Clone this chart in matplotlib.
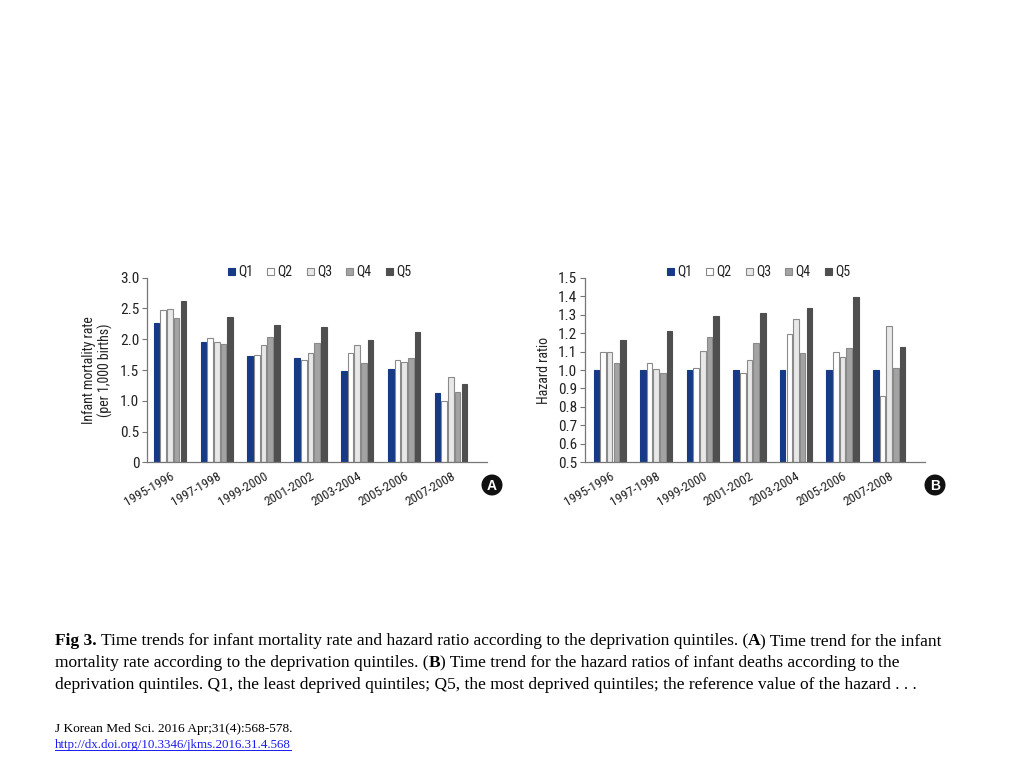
import matplotlib
matplotlib.use("Agg")
import matplotlib.pyplot as plt
import numpy as np
from matplotlib.patches import Ellipse
from matplotlib import font_manager

periods = ["1995-1996", "1997-1998", "1999-2000", "2001-2002", "2003-2004", "2005-2006", "2007-2008"]
quintiles = ["Q1", "Q2", "Q3", "Q4", "Q5"]

imr_q1 = [2.26, 1.96, 1.73, 1.69, 1.49, 1.51, 1.13]
imr_q2 = [2.48, 2.02, 1.75, 1.66, 1.77, 1.66, 0.99]
imr_q3 = [2.49, 1.96, 1.91, 1.78, 1.90, 1.63, 1.39]
imr_q4 = [2.35, 1.93, 2.03, 1.94, 1.62, 1.70, 1.15]
imr_q5 = [2.62, 2.36, 2.23, 2.20, 1.98, 2.11, 1.27]

hr_q1 = [1.00, 1.00, 1.00, 1.00, 1.00, 1.00, 1.00]
hr_q2 = [1.096, 1.036, 1.013, 0.984, 1.193, 1.100, 0.861]
hr_q3 = [1.100, 1.004, 1.105, 1.056, 1.274, 1.070, 1.236]
hr_q4 = [1.040, 0.984, 1.180, 1.148, 1.090, 1.120, 1.011]
hr_q5 = [1.162, 1.213, 1.290, 1.310, 1.334, 1.395, 1.123]

imr_yticks = [0, 0.5, 1.0, 1.5, 2.0, 2.5, 3.0]
imr_ytick_labels = ["0", "0.5", "1.0", "1.5", "2.0", "2.5", "3.0"]
hr_yticks = [0.5, 0.6, 0.7, 0.8, 0.9, 1.0, 1.1, 1.2, 1.3, 1.4, 1.5]

face_colors = ["#173a86", "#ffffff", "#e8e8e8", "#a3a3a3", "#4f4f4f"]
edge_colors = ["#173a86", "#8a8a8a", "#8a8a8a", "#8a8a8a", "#4f4f4f"]

available = {f.name for f in font_manager.fontManager.ttflist}
narrow = None
for cand in ["Liberation Sans Narrow", "Roboto Condensed", "Open Sans Condensed",
             "DejaVu Sans Condensed", "Noto Sans Condensed"]:
    if cand in available:
        narrow = cand
        break
if narrow:
    FONT = [narrow, "DejaVu Sans"]
    tick_fs, xt_fs, lab_fs, leg_fs = 11, 9.5, 10, 10
else:
    FONT = ["Liberation Sans", "DejaVu Sans"]
    tick_fs, xt_fs, lab_fs, leg_fs = 10, 8.5, 8.5, 9
plt.rcParams["font.family"] = FONT

fig = plt.figure(figsize=(10.24, 7.68), dpi=100)
fig.patch.set_facecolor("white")

def draw_panel(rect, series, ylim, yticks, ylabels, ylabel, xlim, legend_x, letter, letter_x):
    ax = fig.add_axes(rect)
    x = np.arange(len(periods))
    slot = 0.143
    width = 0.12
    for i, vals in enumerate(series):
        offs = (i - 2) * slot
        ax.bar(x + offs, vals, width=width,
               color=face_colors[i], edgecolor=edge_colors[i], linewidth=0.8,
               zorder=2)
    ax.set_ylim(*ylim)
    ax.set_xlim(*xlim)
    ax.set_yticks(yticks)
    ax.set_yticklabels(ylabels, fontsize=tick_fs, color="#222222")
    ax.set_xticks(x)
    ax.set_xticklabels(periods, rotation=30, ha="right", rotation_mode="anchor",
                       fontsize=xt_fs, color="#222222")
    ax.tick_params(axis="x", length=0, pad=5)
    ax.tick_params(axis="y", length=3.5, width=0.8, color="#777777", pad=2)
    for s in ["top", "right"]:
        ax.spines[s].set_visible(False)
    for s in ["left", "bottom"]:
        ax.spines[s].set_color("#777777")
        ax.spines[s].set_linewidth(0.9)
    ax.set_ylabel(ylabel, fontsize=lab_fs, color="#222222", linespacing=1.15, labelpad=5)
    for i, q in enumerate(quintiles):
        lx = legend_x + i * 39.5
        fig.patches.append(plt.Rectangle(((lx - 3.5) / 1024, 1 - 274.5 / 768), 7 / 1024, 7 / 768,
                                         transform=fig.transFigure, facecolor=face_colors[i],
                                         edgecolor=edge_colors[i], linewidth=0.8))
        fig.text((lx + 7) / 1024, 1 - 271 / 768, q, fontsize=leg_fs, va="center", ha="left",
                 color="#222222")
    circ = Ellipse((letter_x / 1024, 1 - 485 / 768), 21 / 1024, 21 / 768, transform=fig.transFigure,
                   facecolor="#111111", edgecolor="none")
    fig.patches.append(circ)
    fig.text(letter_x / 1024, 1 - 485.5 / 768, letter, color="white", fontsize=10,
             fontweight="bold", ha="center", va="center", family=["Liberation Sans", "DejaVu Sans"])
    return ax

draw_panel([147 / 1024, 1 - 462.3 / 768, 340 / 1024, 184.6 / 768],
           [imr_q1, imr_q2, imr_q3, imr_q4, imr_q5], (0, 3.0), imr_yticks, imr_ytick_labels,
           "Infant mortality rate\n(per 1,000 births)", (-0.49, 6.77), 231, "A", 492)

draw_panel([585 / 1024, 1 - 462.3 / 768, 340 / 1024, 184.6 / 768],
           [hr_q1, hr_q2, hr_q3, hr_q4, hr_q5], (0.5, 1.5), hr_yticks,
           ["%.1f" % v for v in hr_yticks], "Hazard ratio", (-0.53, 6.77), 670, "B", 935)

serif = ["Liberation Serif", "DejaVu Serif"]
lines_y = [641, 663, 685]
line1_parts = [("Fig 3.", "bold"), (" Time trends for infant mortality rate and hazard ratio according to the deprivation quintiles. (", "normal"),
               ("A", "bold"), (") Time trend for the infant", "normal")]
line2_parts = [("mortality rate according to the deprivation quintiles. (", "normal"), ("B", "bold"),
               (") Time trend for the hazard ratios of infant deaths according to the", "normal")]
line3_parts = [("deprivation quintiles. Q1, the least deprived quintiles; Q5, the most deprived quintiles; the reference value of the hazard . . .", "normal")]

fig.canvas.draw()
renderer = fig.canvas.get_renderer()
for parts, ly in zip([line1_parts, line2_parts, line3_parts], lines_y):
    xpix = 55
    for txt, w in parts:
        t = fig.text(xpix / 1024, 1 - ly / 768, txt, fontsize=12.5, fontweight=w,
                     va="center", ha="left", family=serif, color="black")
        bb = t.get_window_extent(renderer=renderer)
        xpix += bb.width

fig.text(55 / 1024, 1 - 729 / 768, "J Korean Med Sci. 2016 Apr;31(4):568-578.", fontsize=9.6,
         va="center", ha="left", family=serif, color="black")
url = fig.text(55 / 1024, 1 - 745 / 768, "http://dx.doi.org/10.3346/jkms.2016.31.4.568", fontsize=9.4,
               va="center", ha="left", family=serif, color="#1a1aee")
bb = url.get_window_extent(renderer=renderer)
fig.add_artist(plt.Line2D([bb.x0 / 1024, bb.x1 / 1024], [(bb.y0 + 1) / 768, (bb.y0 + 1) / 768],
                          transform=fig.transFigure, color="#1a1aee", linewidth=0.7))

fig.savefig("out.png", dpi=100, facecolor="white")
